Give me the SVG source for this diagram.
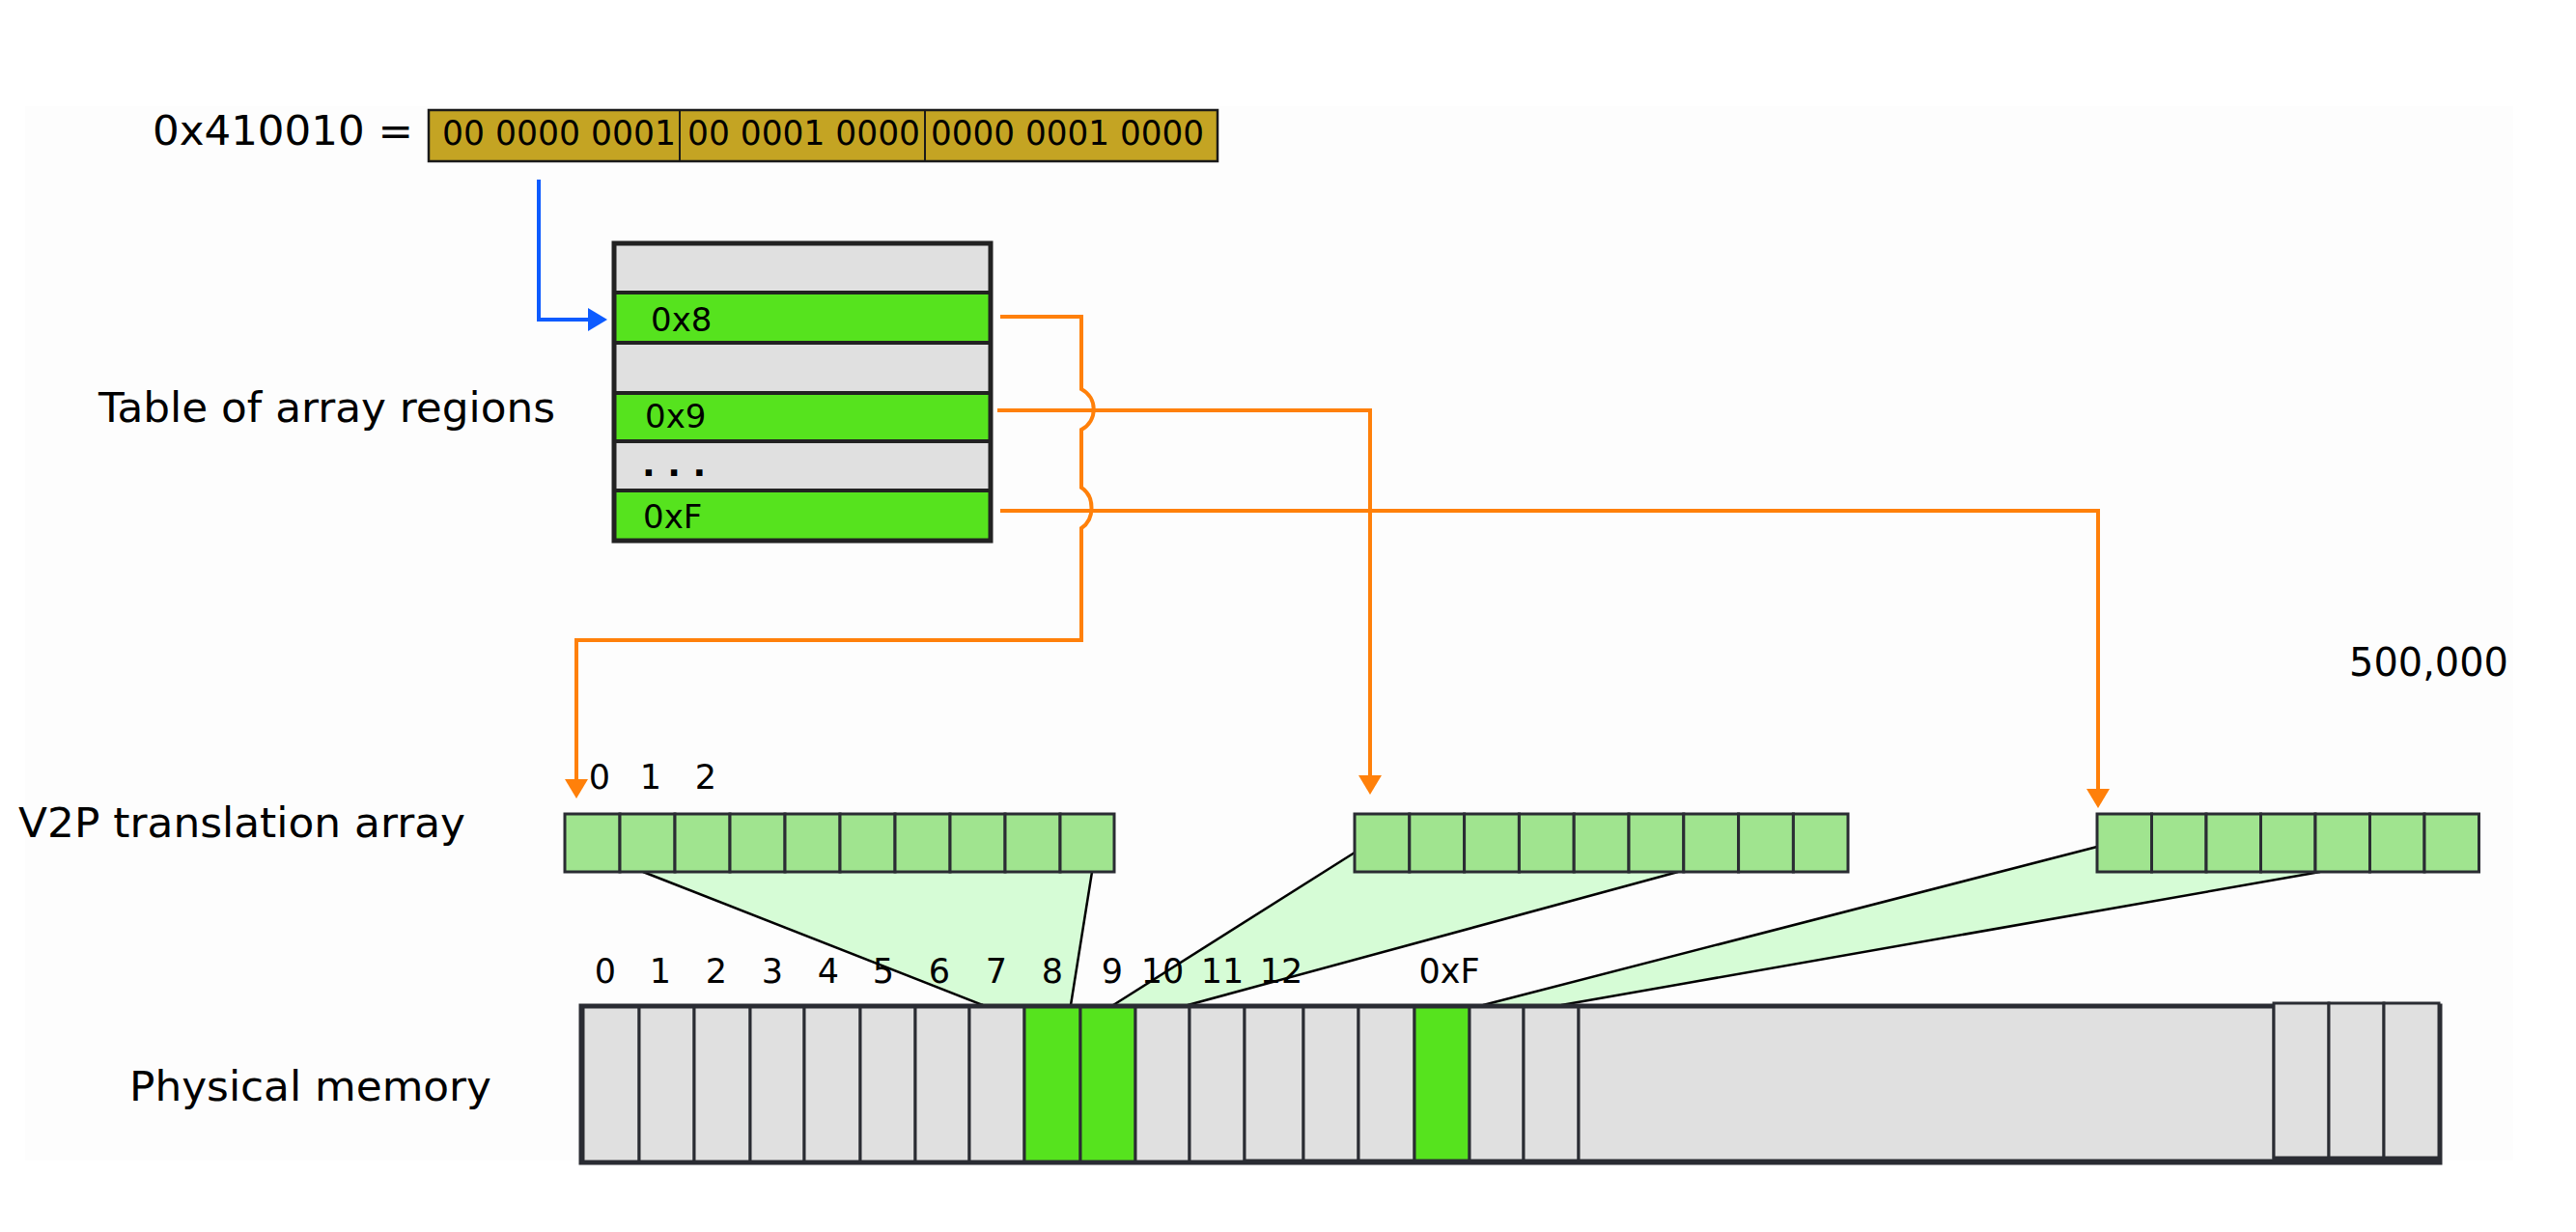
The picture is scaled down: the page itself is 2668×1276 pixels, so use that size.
<svg xmlns="http://www.w3.org/2000/svg" width="2668" height="1276" viewBox="0 0 2668 1276">
<style>
text{font-family:"DejaVu Sans","Liberation Sans",sans-serif;fill:#000}
.big{font-size:43px}
.num{font-size:35px;text-anchor:middle}
.bin{font-size:35px}
.gray{fill:#e0e0e0;stroke:#2a2c33;stroke-width:3}
.grn{fill:#56e31e;stroke:#2a2c33;stroke-width:3}
.arr{fill:#a0e48f;stroke:#2a2c33;stroke-width:3}
.fan{fill:#d6fcd6;stroke:none}
.fl{stroke:#000;stroke-width:2.5;fill:none}
.or{fill:none;stroke:#ff800a;stroke-width:4}
.row{stroke:#222;stroke-width:4}
</style>
<defs>
<marker id="ao" markerUnits="userSpaceOnUse" markerWidth="20" markerHeight="24" viewBox="0 0 20 24" refX="0" refY="12" orient="auto"><path d="M0 0L20 12L0 24z" fill="#ff800a"/></marker>
<marker id="ab" markerUnits="userSpaceOnUse" markerWidth="20" markerHeight="24" viewBox="0 0 20 24" refX="0" refY="12" orient="auto"><path d="M0 0L20 12L0 24z" fill="#0d5bff"/></marker>
</defs>
<rect x="26" y="110" width="2577" height="1092" fill="#fdfdfd"/>

<g id="address">
<text class="big" x="158" y="150" textLength="270" lengthAdjust="spacingAndGlyphs">0x410010 =</text>
<rect x="444" y="114" width="817" height="53" fill="#c4a423" stroke="#1a1a1a" stroke-width="2.5"/>
<line x1="704" y1="114" x2="704" y2="167" stroke="#1a1a1a" stroke-width="2"/>
<line x1="958" y1="114" x2="958" y2="167" stroke="#1a1a1a" stroke-width="2"/>
<text class="bin" x="458" y="150" textLength="242" lengthAdjust="spacingAndGlyphs">00 0000 0001</text>
<text class="bin" x="712" y="150" textLength="241" lengthAdjust="spacingAndGlyphs">00 0001 0000</text>
<text class="bin" x="964" y="150" textLength="283" lengthAdjust="spacingAndGlyphs">0000 0001 0000</text>
</g>

<g id="table">
<rect x="636" y="252" width="390" height="51" fill="#e0e0e0"/>
<rect x="636" y="303" width="390" height="52" fill="#56e31e"/>
<rect x="636" y="355" width="390" height="52" fill="#e0e0e0"/>
<rect x="636" y="407" width="390" height="50" fill="#56e31e"/>
<rect x="636" y="457" width="390" height="51" fill="#e0e0e0"/>
<rect x="636" y="508" width="390" height="52" fill="#56e31e"/>
<line class="row" x1="636" y1="303" x2="1026" y2="303"/>
<line class="row" x1="636" y1="355" x2="1026" y2="355"/>
<line class="row" x1="636" y1="407" x2="1026" y2="407"/>
<line class="row" x1="636" y1="457" x2="1026" y2="457"/>
<line class="row" x1="636" y1="508" x2="1026" y2="508"/>
<rect x="636" y="252" width="390" height="308" fill="none" stroke="#222" stroke-width="5"/>
<text x="674" y="343" font-size="34">0x8</text>
<text x="668" y="443" font-size="34">0x9</text>
<text x="665" y="493" font-size="36" font-weight="bold">. . .</text>
<text x="666" y="547" font-size="34">0xF</text>
</g>
<text class="big" x="102" y="437" textLength="473" lengthAdjust="spacingAndGlyphs">Table of array regions</text>

<g id="fans">
<polygon class="fan" points="666,903 1131,903 1109,1041 1018,1041"/>
<polygon class="fan" points="1403,883 1741,903 1230,1041 1153,1041"/>
<polygon class="fan" points="2172,877 2403,903 1617,1041 1536,1041"/>
<line class="fl" x1="666" y1="903" x2="1018" y2="1041"/>
<line class="fl" x1="1131" y1="903" x2="1109" y2="1041"/>
<line class="fl" x1="1403" y1="883" x2="1153" y2="1041"/>
<line class="fl" x1="1738" y1="903" x2="1230" y2="1041"/>
<line class="fl" x1="2172" y1="877" x2="1536" y2="1041"/>
<line class="fl" x1="2403" y1="903" x2="1617" y2="1041"/>
</g>

<g id="v2p-1">
<rect class="arr" x="585" y="843" width="57" height="60"/>
<rect class="arr" x="642" y="843" width="57" height="60"/>
<rect class="arr" x="699" y="843" width="57" height="60"/>
<rect class="arr" x="756" y="843" width="57" height="60"/>
<rect class="arr" x="813" y="843" width="57" height="60"/>
<rect class="arr" x="870" y="843" width="57" height="60"/>
<rect class="arr" x="927" y="843" width="57" height="60"/>
<rect class="arr" x="984" y="843" width="57" height="60"/>
<rect class="arr" x="1041" y="843" width="57" height="60"/>
<rect class="arr" x="1098" y="843" width="56" height="60"/>
</g>
<g id="v2p-2">
<rect class="arr" x="1403" y="843" width="56.8" height="60"/>
<rect class="arr" x="1459.8" y="843" width="56.8" height="60"/>
<rect class="arr" x="1516.6" y="843" width="56.8" height="60"/>
<rect class="arr" x="1573.4" y="843" width="56.8" height="60"/>
<rect class="arr" x="1630.2" y="843" width="56.8" height="60"/>
<rect class="arr" x="1687" y="843" width="56.8" height="60"/>
<rect class="arr" x="1743.8" y="843" width="56.8" height="60"/>
<rect class="arr" x="1800.6" y="843" width="56.8" height="60"/>
<rect class="arr" x="1857.4" y="843" width="56.6" height="60"/>
</g>
<g id="v2p-3">
<rect class="arr" x="2172" y="843" width="56.5" height="60"/>
<rect class="arr" x="2228.5" y="843" width="56.5" height="60"/>
<rect class="arr" x="2285" y="843" width="56.5" height="60"/>
<rect class="arr" x="2341.5" y="843" width="56.5" height="60"/>
<rect class="arr" x="2398" y="843" width="56.5" height="60"/>
<rect class="arr" x="2454.5" y="843" width="56.5" height="60"/>
<rect class="arr" x="2511" y="843" width="56.5" height="60"/>
</g>
<text class="big" x="19" y="867" textLength="463" lengthAdjust="spacingAndGlyphs">V2P translation array</text>
<g id="v2p-index">
<text class="num" x="621" y="817">0</text>
<text class="num" x="674" y="817">1</text>
<text class="num" x="731" y="817">2</text>
</g>
<text x="2433" y="700" font-size="40" textLength="165" lengthAdjust="spacingAndGlyphs">500,000</text>

<g id="physical-memory">
<rect class="gray" x="604" y="1042" width="58" height="162"/>
<rect class="gray" x="662" y="1042" width="57" height="162"/>
<rect class="gray" x="719" y="1042" width="58" height="162"/>
<rect class="gray" x="777" y="1042" width="56" height="162"/>
<rect class="gray" x="833" y="1042" width="58" height="162"/>
<rect class="gray" x="891" y="1042" width="57" height="162"/>
<rect class="gray" x="948" y="1042" width="56" height="162"/>
<rect class="gray" x="1004" y="1042" width="57" height="162"/>
<rect class="grn" x="1061" y="1042" width="58" height="162"/>
<rect class="grn" x="1119" y="1042" width="57" height="162"/>
<rect class="gray" x="1176" y="1042" width="56" height="162"/>
<rect class="gray" x="1232" y="1042" width="57" height="162"/>
<rect class="gray" x="1289" y="1042" width="61" height="160"/>
<rect class="gray" x="1350" y="1042" width="57" height="160"/>
<rect class="gray" x="1407" y="1042" width="58" height="160"/>
<rect class="grn" x="1465" y="1042" width="57" height="160"/>
<rect class="gray" x="1522" y="1042" width="56" height="160"/>
<rect class="gray" x="1578" y="1042" width="57" height="160"/>
<rect class="gray" x="1635" y="1042" width="720" height="160"/>
<rect x="602" y="1042" width="1925" height="162" fill="none" stroke="#2a2c33" stroke-width="5"/>
<rect class="gray" x="2355" y="1039" width="57" height="160"/>
<rect class="gray" x="2412" y="1039" width="57" height="160"/>
<rect class="gray" x="2469" y="1039" width="57" height="160"/>
<rect x="2355" y="1199" width="172" height="6" fill="#2a2c33"/>
</g>
<text class="big" x="134" y="1140" textLength="375" lengthAdjust="spacingAndGlyphs">Physical memory</text>
<g id="pm-index">
<text class="num" x="627" y="1018">0</text>
<text class="num" x="684" y="1018">1</text>
<text class="num" x="742" y="1018">2</text>
<text class="num" x="800" y="1018">3</text>
<text class="num" x="858" y="1018">4</text>
<text class="num" x="915" y="1018">5</text>
<text class="num" x="973" y="1018">6</text>
<text class="num" x="1032" y="1018">7</text>
<text class="num" x="1090" y="1018">8</text>
<text class="num" x="1152" y="1018">9</text>
<text class="num" x="1204" y="1018">10</text>
<text class="num" x="1266" y="1018">11</text>
<text class="num" x="1327" y="1018">12</text>
<text class="num" x="1501" y="1018">0xF</text>
</g>

<g id="connectors">
<path d="M558 186V331H609" fill="none" stroke="#0d5bff" stroke-width="4" marker-end="url(#ab)"/>
<path class="or" d="M1036 328H1120V403C1137 412 1137 436 1120 445V505C1134 514 1134 538 1120 547V663H597V807" marker-end="url(#ao)"/>
<path class="or" d="M1033 425H1419V803" marker-end="url(#ao)"/>
<path class="or" d="M1036 529H2173V817" marker-end="url(#ao)"/>
</g>
</svg>
